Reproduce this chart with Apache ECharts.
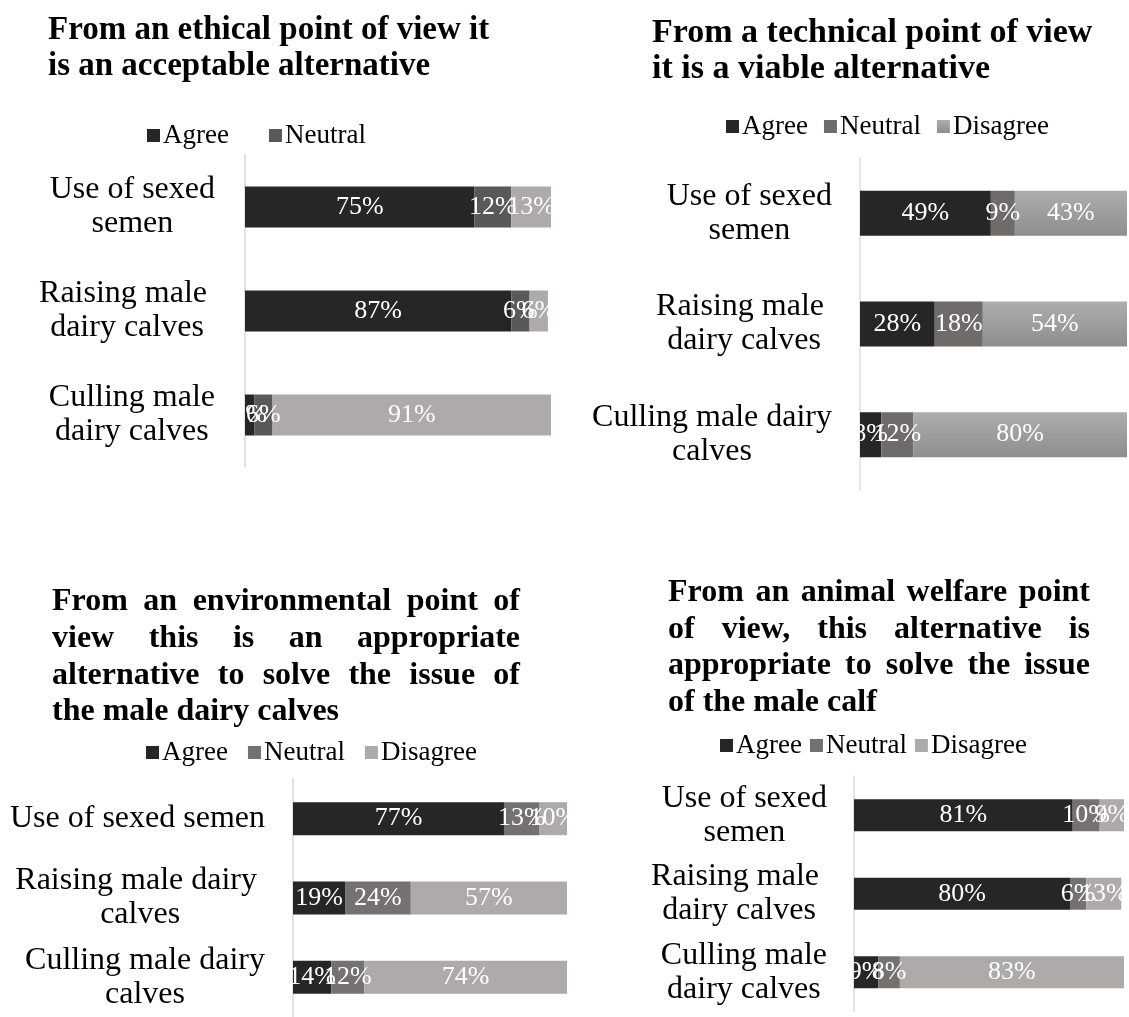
<!DOCTYPE html>
<html>
<head>
<meta charset="utf-8">
<script src="https://cdn.jsdelivr.net/npm/echarts@6/dist/echarts.min.js"></script>
<style>
  html, body { margin: 0; padding: 0; background: #ffffff; }
  #main { width: 1129px; height: 1017px; }
</style>
</head>
<body>
<div id="main"></div>
<script>
// ---- Survey data (percent of respondents) ----
const SERIES_NAMES = ['Agree', 'Neutral', 'Disagree'];

// Ethical acceptability
const ethicalTitle = ['From an ethical point of view it', 'is an acceptable alternative'];
const ethicalCategories = ['Use of sexed\nsemen', 'Raising male \ndairy calves', 'Culling male\ndairy calves'];
const ethicalAgree = [75, 87, 3];
const ethicalNeutral = [12, 6, 6];
const ethicalDisagree = [13, 6, 91];

// Technical viability
const technicalTitle = ['From a technical point of view', 'it is a viable alternative'];
const technicalCategories = ['Use of sexed\nsemen', 'Raising male \ndairy calves', 'Culling male dairy\ncalves'];
const technicalAgree = [49, 28, 8];
const technicalNeutral = [9, 18, 12];
const technicalDisagree = [43, 54, 80];

// Environmental appropriateness
const environmentalTitle = ['From an environmental point of', 'view this is an appropriate',
  'alternative to solve the issue of', 'the male dairy calves'];
const environmentalCategories = ['Use of sexed semen', 'Raising male dairy \ncalves', 'Culling male dairy\ncalves'];
const environmentalAgree = [77, 19, 14];
const environmentalNeutral = [13, 24, 12];
const environmentalDisagree = [10, 57, 74];

// Animal welfare appropriateness
const welfareTitle = ['From an animal welfare point', 'of view, this alternative is',
  'appropriate to solve the issue', 'of the male calf'];
const welfareCategories = ['Use of sexed\nsemen', 'Raising male \ndairy calves', 'Culling male\ndairy calves'];
const welfareAgree = [81, 80, 9];
const welfareNeutral = [10, 6, 8];
const welfareDisagree = [9, 13, 83];

// ---- Styling ----
const FONT = "'Liberation Serif', 'Times New Roman', serif";
const AGREE = '#262626';
const DISAGREE = '#aeaaaa';
const disagreeGradient = {
  type: 'linear', x: 0, y: 0, x2: 0, y2: 1,
  colorStops: [{ offset: 0, color: '#adadad' }, { offset: 1, color: '#8e8e8e' }]
};

const panels = [
  {
    title: ethicalTitle, titleX: 48, titleY: [30, 66], titleWidth: 0, titleSize: 33,
    cats: ethicalCategories, values: [ethicalAgree, ethicalNeutral, ethicalDisagree],
    colors: [AGREE, '#595959', DISAGREE], legendNames: ['Agree', 'Neutral'],
    grid: { left: 245, top: 155, width: 306, height: 312 }, barWidth: 41,
    legend: { left: 142, top: 117, itemGap: 40 },
    labelMargin: 30, axisColor: '#d9d9d9', mask: [224, 20]
  },
  {
    title: technicalTitle, titleX: 652, titleY: [33, 69], titleWidth: 0, titleSize: 34,
    cats: technicalCategories, values: [technicalAgree, technicalNeutral, technicalDisagree],
    colors: [AGREE, '#706b6b', disagreeGradient], legendNames: SERIES_NAMES,
    grid: { left: 860, top: 158, width: 267, height: 332 }, barWidth: 45,
    legend: { left: 721, top: 108, itemGap: 16 },
    labelMargin: 28, axisColor: '#dbe1e8', mask: [836, 22]
  },
  {
    title: environmentalTitle, titleX: 52, titleY: [602, 639, 676, 712], titleWidth: 468, titleSize: 32,
    cats: environmentalCategories, values: [environmentalAgree, environmentalNeutral, environmentalDisagree],
    colors: [AGREE, '#767171', DISAGREE], legendNames: SERIES_NAMES,
    grid: { left: 293, top: 779, width: 274, height: 245 }, barWidth: 33,
    legend: { left: 141, top: 734, itemGap: 20 },
    labelMargin: 28, axisColor: '#d9d9d9', mask: [268, 24]
  },
  {
    title: welfareTitle, titleX: 668, titleY: [593, 630, 666, 703], titleWidth: 422, titleSize: 32,
    cats: welfareCategories, values: [welfareAgree, welfareNeutral, welfareDisagree],
    colors: [AGREE, '#767171', DISAGREE], legendNames: SERIES_NAMES,
    grid: { left: 854, top: 776, width: 270, height: 235.5 }, barWidth: 32,
    legend: { left: 715, top: 727, itemGap: 8 },
    labelMargin: 27, axisColor: '#d9d9d9', mask: [831, 22]
  }
];

// ---- Title text, justified where the block has a width ----
const measureCtx = document.createElement('canvas').getContext('2d');

function titleElements(p) {
  const font = 'bold ' + p.titleSize + 'px ' + FONT;
  measureCtx.font = font;
  const els = [];
  p.title.forEach((line, li) => {
    const y = p.titleY[li];
    const isLast = li === p.title.length - 1;
    if (!p.titleWidth || isLast) {
      els.push(textEl(line, p.titleX, y, font));
      return;
    }
    const words = line.split(' ');
    const widths = words.map(w => measureCtx.measureText(w).width);
    const total = widths.reduce((a, b) => a + b, 0);
    const gap = (p.titleWidth - total) / (words.length - 1);
    let x = p.titleX;
    words.forEach((w, i) => {
      els.push(textEl(w, x, y, font));
      x += widths[i] + gap;
    });
  });
  return els;
}

function textEl(text, x, y, font) {
  return {
    type: 'text', x: x, y: y, silent: true, z: 50,
    style: {
      text: text, font: font, fill: '#000',
      align: 'left', verticalAlign: 'middle',
      textAlign: 'left', textVerticalAlign: 'middle'
    }
  };
}

// ---- Build option ----
const grids = [], xAxes = [], yAxes = [], series = [], legends = [], graphics = [];

panels.forEach((p, i) => {
  grids.push(Object.assign({ containLabel: false }, p.grid));
  xAxes.push({ type: 'value', gridIndex: i, min: 0, max: 100, show: false });

  yAxes.push({
    type: 'category', gridIndex: i, data: p.cats, inverse: true,
    axisLine: { show: true, lineStyle: { color: p.axisColor, width: 1.5 } },
    axisTick: { show: false }, splitLine: { show: false },
    axisLabel: {
      align: 'right', margin: p.labelMargin,
      formatter: v => v.split('\n').map(s => '{c|' + s + '}').join('\n'),
      rich: { c: { align: 'center', fontSize: 32, lineHeight: 34, fontFamily: FONT, color: '#000' } }
    }
  });

  SERIES_NAMES.forEach((name, k) => {
    series.push({
      type: 'bar', name: name, xAxisIndex: i, yAxisIndex: i, stack: 'panel' + i,
      data: p.values[k], barWidth: p.barWidth,
      itemStyle: { color: p.colors[k] },
      label: {
        show: true, position: 'inside', color: '#fff', fontSize: 26, fontFamily: FONT,
        formatter: q => q.value + '%'
      },
      emphasis: { disabled: true }
    });
  });

  legends.push({
    left: p.legend.left, top: p.legend.top, itemGap: p.legend.itemGap,
    itemWidth: 13, itemHeight: 13, icon: 'rect', selectedMode: false,
    textStyle: { fontSize: 27, fontFamily: FONT, color: '#000', padding: [0, 0, 0, -2] },
    data: p.legendNames.map(n => ({ name: n, itemStyle: { color: p.colors[SERIES_NAMES.indexOf(n)] } }))
  });

  graphics.push(...titleElements(p));

  // labels of the thinnest first segments do not spill left of the value axis
  const band = p.grid.height / p.cats.length;
  p.cats.forEach((c, r) => {
    const cy = p.grid.top + band * (r + 0.5);
    graphics.push({
      type: 'rect', silent: true, z: 100,
      shape: { x: p.mask[0], y: cy - p.barWidth / 2, width: p.mask[1], height: p.barWidth },
      style: { fill: '#ffffff' }
    });
  });
});

const chart = echarts.init(document.getElementById('main'), null, { renderer: 'canvas' });
chart.setOption({
  animation: false,
  backgroundColor: '#ffffff',
  grid: grids, xAxis: xAxes, yAxis: yAxes, series: series, legend: legends,
  graphic: { elements: graphics }
});
</script>
</body>
</html>
